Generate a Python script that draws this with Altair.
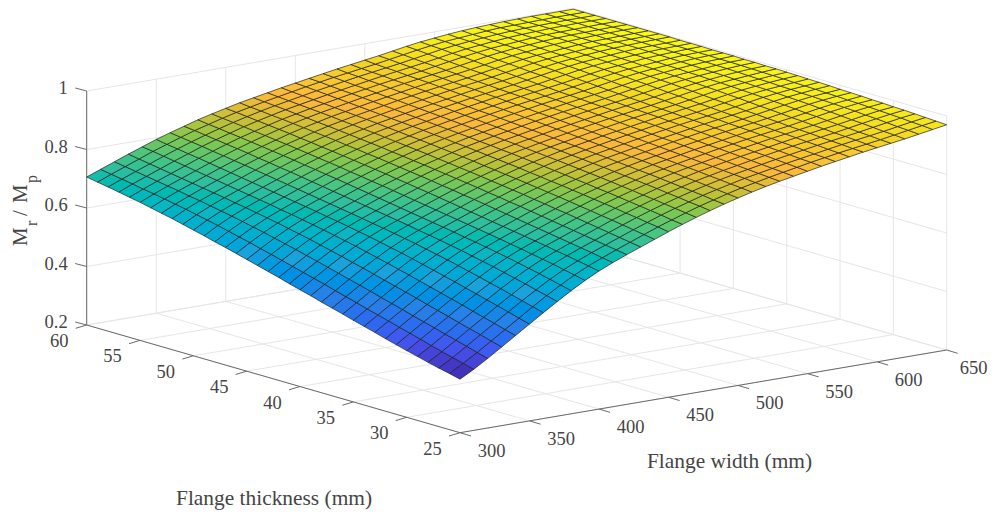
import altair as alt
import pandas as pd

# Axis ticks
WIDTH_TICKS = [300, 350, 400, 450, 500, 550, 600, 650]
THICK_TICKS = [25, 30, 35, 40, 45, 50, 55, 60]
RATIO_TICKS = [0.2, 0.4, 0.6, 0.8, 1.0]
RATIO_LABELS = ["0.2", "0.4", "0.6", "0.8", "1"]

# Surface mesh: one row per flange thickness (25..60), one value per flange width (300..650 by 10), ratio x 1000
Z_T25 = [383,409,438,469,500,531,562,592,621,648,672,693,712,730,748,766,783,799,814,828,841,853,864,874,883,892,901,909,917,925,932,939,946,954,962,970]
Z_T26 = [392,419,448,479,510,541,572,602,630,656,679,699,718,736,754,772,788,804,819,832,845,857,867,877,886,895,904,912,920,927,934,941,949,957,965,972]
Z_T27 = [400,428,459,490,521,552,582,611,639,664,686,706,724,742,760,777,794,809,823,837,849,860,871,880,889,898,906,914,922,930,937,944,951,959,967,974]
Z_T28 = [409,438,469,500,531,562,592,621,648,672,693,712,730,748,766,783,799,814,828,841,853,864,874,883,892,901,909,917,925,932,939,946,954,962,970,976]
Z_T29 = [419,448,479,510,541,572,602,630,656,679,699,718,736,754,772,788,804,819,832,845,857,867,877,886,895,904,912,920,927,934,941,949,957,965,972,978]
Z_T30 = [428,459,490,521,552,582,611,639,664,686,706,724,742,760,777,794,809,823,837,849,860,871,880,889,898,906,914,922,930,937,944,951,959,967,974,979]
Z_T31 = [438,469,500,531,562,592,621,648,672,693,712,730,748,766,783,799,814,828,841,853,864,874,883,892,901,909,917,925,932,939,946,954,962,970,976,981]
Z_T32 = [448,479,510,541,572,602,630,656,679,699,718,736,754,772,788,804,819,832,845,857,867,877,886,895,904,912,920,927,934,941,949,957,965,972,978,982]
Z_T33 = [459,490,521,552,582,611,639,664,686,706,724,742,760,777,794,809,823,837,849,860,871,880,889,898,906,914,922,930,937,944,951,959,967,974,979,984]
Z_T34 = [469,500,531,562,592,621,648,672,693,712,730,748,766,783,799,814,828,841,853,864,874,883,892,901,909,917,925,932,939,946,954,962,970,976,981,985]
Z_T35 = [479,510,541,572,602,630,656,679,699,718,736,754,772,788,804,819,832,845,857,867,877,886,895,904,912,920,927,934,941,949,957,965,972,978,982,986]
Z_T36 = [490,521,552,582,611,639,664,686,706,724,742,760,777,794,809,823,837,849,860,871,880,889,898,906,914,922,930,937,944,951,959,967,974,979,984,988]
Z_T37 = [500,531,562,592,621,648,672,693,712,730,748,766,783,799,814,828,841,853,864,874,883,892,901,909,917,925,932,939,946,954,962,970,976,981,985,989]
Z_T38 = [510,541,572,602,630,656,679,699,718,736,754,772,788,804,819,832,845,857,867,877,886,895,904,912,920,927,934,941,949,957,965,972,978,982,986,990]
Z_T39 = [521,552,582,611,639,664,686,706,724,742,760,777,794,809,823,837,849,860,871,880,889,898,906,914,922,930,937,944,951,959,967,974,979,984,988,991]
Z_T40 = [531,562,592,621,648,672,693,712,730,748,766,783,799,814,828,841,853,864,874,883,892,901,909,917,925,932,939,946,954,962,970,976,981,985,989,992]
Z_T41 = [541,572,602,630,656,679,699,718,736,754,772,788,804,819,832,845,857,867,877,886,895,904,912,920,927,934,941,949,957,965,972,978,982,986,990,993]
Z_T42 = [552,582,611,639,664,686,706,724,742,760,777,794,809,823,837,849,860,871,880,889,898,906,914,922,930,937,944,951,959,967,974,979,984,988,991,993]
Z_T43 = [562,592,621,648,672,693,712,730,748,766,783,799,814,828,841,853,864,874,883,892,901,909,917,925,932,939,946,954,962,970,976,981,985,989,992,994]
Z_T44 = [572,602,630,656,679,699,718,736,754,772,788,804,819,832,845,857,867,877,886,895,904,912,920,927,934,941,949,957,965,972,978,982,986,990,993,994]
Z_T45 = [582,611,639,664,686,706,724,742,760,777,794,809,823,837,849,860,871,880,889,898,906,914,922,930,937,944,951,959,967,974,979,984,988,991,993,995]
Z_T46 = [592,621,648,672,693,712,730,748,766,783,799,814,828,841,853,864,874,883,892,901,909,917,925,932,939,946,954,962,970,976,981,985,989,992,994,995]
Z_T47 = [602,630,656,679,699,718,736,754,772,788,804,819,832,845,857,867,877,886,895,904,912,920,927,934,941,949,957,965,972,978,982,986,990,993,994,995]
Z_T48 = [611,639,664,686,706,724,742,760,777,794,809,823,837,849,860,871,880,889,898,906,914,922,930,937,944,951,959,967,974,979,984,988,991,993,995,996]
Z_T49 = [621,648,672,693,712,730,748,766,783,799,814,828,841,853,864,874,883,892,901,909,917,925,932,939,946,954,962,970,976,981,985,989,992,994,995,996]
Z_T50 = [630,656,679,699,718,736,754,772,788,804,819,832,845,857,867,877,886,895,904,912,920,927,934,941,949,957,965,972,978,982,986,990,993,994,995,996]
Z_T51 = [639,664,686,706,724,742,760,777,794,809,823,837,849,860,871,880,889,898,906,914,922,930,937,944,951,959,967,974,979,984,988,991,993,995,996,997]
Z_T52 = [648,672,693,712,730,748,766,783,799,814,828,841,853,864,874,883,892,901,909,917,925,932,939,946,954,962,970,976,981,985,989,992,994,995,996,997]
Z_T53 = [656,679,699,718,736,754,772,788,804,819,832,845,857,867,877,886,895,904,912,920,927,934,941,949,957,965,972,978,982,986,990,993,994,995,996,997]
Z_T54 = [664,686,706,724,742,760,777,794,809,823,837,849,860,871,880,889,898,906,914,922,930,937,944,951,959,967,974,979,984,988,991,993,995,996,997,997]
Z_T55 = [672,693,712,730,748,766,783,799,814,828,841,853,864,874,883,892,901,909,917,925,932,939,946,954,962,970,976,981,985,989,992,994,995,996,997,997]
Z_T56 = [679,699,718,736,754,772,788,804,819,832,845,857,867,877,886,895,904,912,920,927,934,941,949,957,965,972,978,982,986,990,993,994,995,996,997,997]
Z_T57 = [686,706,724,742,760,777,794,809,823,837,849,860,871,880,889,898,906,914,922,930,937,944,951,959,967,974,979,984,988,991,993,995,996,997,997,997]
Z_T58 = [693,712,730,748,766,783,799,814,828,841,853,864,874,883,892,901,909,917,925,932,939,946,954,962,970,976,981,985,989,992,994,995,996,997,997,997]
Z_T59 = [699,718,736,754,772,788,804,819,832,845,857,867,877,886,895,904,912,920,927,934,941,949,957,965,972,978,982,986,990,993,994,995,996,997,997,997]
Z_T60 = [706,724,742,760,777,794,809,823,837,849,860,871,880,889,898,906,914,922,930,937,944,951,959,967,974,979,984,988,991,993,995,996,997,997,997,997]

ROWS = [Z_T25, Z_T26, Z_T27, Z_T28, Z_T29, Z_T30, Z_T31, Z_T32, Z_T33, Z_T34, Z_T35, Z_T36,
        Z_T37, Z_T38, Z_T39, Z_T40, Z_T41, Z_T42, Z_T43, Z_T44, Z_T45, Z_T46, Z_T47, Z_T48,
        Z_T49, Z_T50, Z_T51, Z_T52, Z_T53, Z_T54, Z_T55, Z_T56, Z_T57, Z_T58, Z_T59, Z_T60]

COLOR_DOMAIN = [0.383, 0.45, 0.525, 0.60, 0.67, 0.73, 0.805, 0.85, 0.887, 0.94, 1.0]
COLOR_RANGE = ["#3e26a8", "#4454f0", "#2b7fe8", "#1da1dc", "#0cb6c4", "#2fbf9c",
               "#80c850", "#ccc038", "#fbb83a", "#f2d324", "#f9fb15"]

W, H = 980, 503
M = 8  # page margin


def project(w, t, z):
    """Orthographic view of the MATLAB axes box, in chart pixels."""
    fw = (w - 300) / 350
    ft = (t - 25) / 35
    fz = (z - 0.2) / 0.8
    return (460 - M + 486.7 * fw - 373.3 * ft,
            432.7 - M - 82.7 * fw - 107.7 * ft - 234.0 * fz)


def seg(a, b, kind):
    p, q = project(*a), project(*b)
    return {"x": p[0], "y": p[1], "x2": q[0], "y2": q[1], "kind": kind}


segs = []
for w in WIDTH_TICKS:
    segs.append(seg((w, 25, 0.2), (w, 60, 0.2), "grid"))
    segs.append(seg((w, 60, 0.2), (w, 60, 1.0), "grid"))
for t in THICK_TICKS:
    segs.append(seg((300, t, 0.2), (650, t, 0.2), "grid"))
    segs.append(seg((650, t, 0.2), (650, t, 1.0), "grid"))
for z in RATIO_TICKS:
    segs.append(seg((300, 60, z), (650, 60, z), "grid"))
    segs.append(seg((650, 60, z), (650, 25, z), "grid"))

axes = [seg((300, 60, 0.2), (300, 60, 1.0), "axis"),
        seg((300, 25, 0.2), (300, 60, 0.2), "axis"),
        seg((300, 25, 0.2), (650, 25, 0.2), "axis")]


def tick(a, dx, dy):
    p = project(*a)
    return {"x": p[0], "y": p[1], "x2": p[0] + dx, "y2": p[1] + dy, "kind": "axis"}


labels = []
for w in WIDTH_TICKS:
    axes.append(tick((w, 25, 0.2), 11, 3.3))
    p = project(w, 25, 0.2)
    # the last label is nudged left so that it stays inside the page's drawing area
    nudge = -4.5 if w == 650 else 0
    labels.append({"x": p[0] + 31.5 + nudge, "y": p[1] + 18, "text": str(w), "align": "center"})
for t in THICK_TICKS:
    axes.append(tick((300, t, 0.2), -11, 3.3))
    p = project(300, t, 0.2)
    labels.append({"x": p[0] - 27.5, "y": p[1] + 16, "text": str(t), "align": "center"})
zlabels = []
for z, s in zip(RATIO_TICKS, RATIO_LABELS):
    axes.append(tick((300, 60, z), -11.5, -3))
    p = project(300, 60, z)
    zlabels.append({"x": p[0] - 19, "y": p[1] - 3, "text": s})

features = []
for j in range(35):
    for i in range(35):
        corners = [(i, j), (i + 1, j), (i + 1, j + 1), (i, j + 1)]
        ring = [list(project(300 + 10 * a, 25 + b, ROWS[b][a] / 1000)) for a, b in corners]
        ring.append(ring[0])
        zm = sum(ROWS[b][a] for a, b in corners) / 4000
        features.append({"type": "Feature", "properties": {"z": zm},
                         "geometry": {"type": "Polygon", "coordinates": [ring]}})

sx = alt.Scale(domain=[0, W], range=[0, W], nice=False, zero=False)
sy = alt.Scale(domain=[0, H], range=[0, H], nice=False, zero=False)
X = alt.X("x:Q", scale=sx, axis=None)
Y = alt.Y("y:Q", scale=sy, axis=None)
FONT = "Liberation Serif"
TXT = "#454545"


def rules(rows, color, width=1.0):
    return alt.Chart(pd.DataFrame(rows)).mark_rule(color=color, strokeWidth=width).encode(
        x=X, y=Y, x2="x2:Q", y2="y2:Q")


grid = rules(segs, "#e6e6e6")
axis = rules(axes, "#6a6a6a")

surface = alt.Chart(alt.Data(values=features)).mark_geoshape(
    stroke="#1c1c1c", strokeWidth=0.85, strokeOpacity=0.8
).encode(
    fill=alt.Fill("properties.z:Q", scale=alt.Scale(domain=COLOR_DOMAIN, range=COLOR_RANGE), legend=None)
).project(type="identity", scale=1, translate=[0, 0])

tick_text = alt.Chart(pd.DataFrame(labels)).mark_text(
    font=FONT, fontSize=18.5, color=TXT, align="center", baseline="middle"
).encode(x=X, y=Y, text="text:N")
z_text = alt.Chart(pd.DataFrame(zlabels)).mark_text(
    font=FONT, fontSize=18.5, color=TXT, align="right", baseline="middle"
).encode(x=X, y=Y, text="text:N")

titles = pd.DataFrame([
    {"x": 729.5 - M, "y": 468 - M, "text": "Flange width (mm)"},
    {"x": 274 - M, "y": 505 - M, "text": "Flange thickness (mm)"},
])
title_text = alt.Chart(titles).mark_text(
    font=FONT, fontSize=21.4, color=TXT, align="center", baseline="alphabetic"
).encode(x=X, y=Y, text="text:N")

ylab_big = pd.DataFrame([
    {"x": 27 - M, "y": 246 - M, "text": "M"},
    {"x": 27 - M, "y": 216 - M, "text": "/"},
    {"x": 27 - M, "y": 203 - M, "text": "M"},
])
ylab_small = pd.DataFrame([
    {"x": 37 - M, "y": 226 - M, "text": "r"},
    {"x": 37 - M, "y": 183 - M, "text": "p"},
])
ylab1 = alt.Chart(ylab_big).mark_text(
    font=FONT, fontSize=21, color=TXT, align="left", baseline="alphabetic", angle=270
).encode(x=X, y=Y, text="text:N")
ylab2 = alt.Chart(ylab_small).mark_text(
    font=FONT, fontSize=16, color=TXT, align="left", baseline="alphabetic", angle=270
).encode(x=X, y=Y, text="text:N")

chart = alt.layer(grid, axis, surface, tick_text, z_text, title_text, ylab1, ylab2).properties(
    width=W, height=H, padding=0, autosize=alt.AutoSizeParams(type="none"), background="white"
).configure_view(stroke=None)

chart.save("out.html", embed_options={"renderer": "svg", "actions": False})
